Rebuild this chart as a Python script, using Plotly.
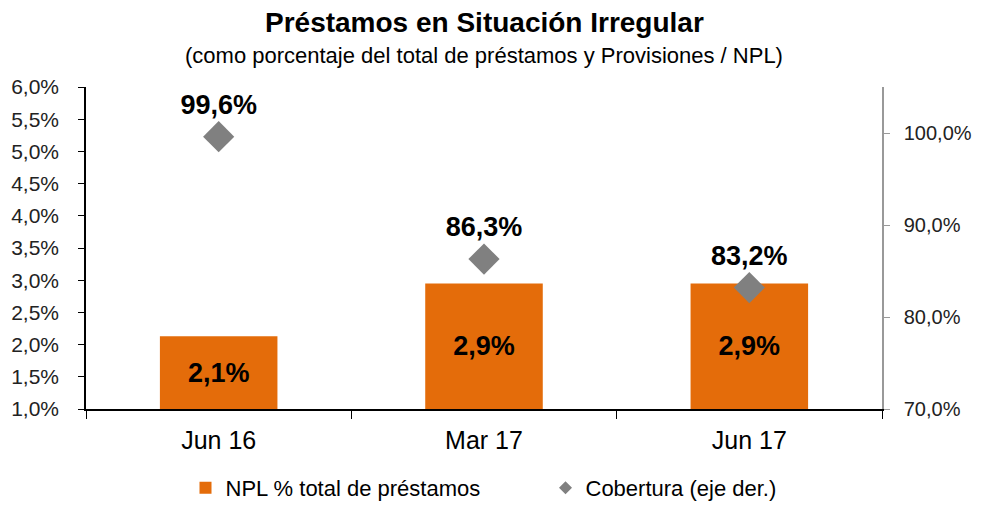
import plotly.graph_objects as go

categories = ["Jun 16", "Mar 17", "Jun 17"]
npl_values = [2.13, 2.95, 2.95]
npl_labels = ["2,1%", "2,9%", "2,9%"]
cobertura_values = [99.6, 86.3, 83.2]
cobertura_labels = ["99,6%", "86,3%", "83,2%"]
left_ticks = [1.0, 1.5, 2.0, 2.5, 3.0, 3.5, 4.0, 4.5, 5.0, 5.5, 6.0]
right_ticks = [70, 80, 90, 100]

FONT = "Liberation Sans, Arial, sans-serif"
ORANGE = "#E46C0A"
GRAY = "#808080"
AXIS_MIN = 1.0

fig = go.Figure()

# bars start at the axis minimum, as in the source chart
fig.add_trace(go.Bar(
    x=categories, y=[v - AXIS_MIN for v in npl_values], base=AXIS_MIN,
    name="NPL % total de préstamos",
    marker=dict(color=ORANGE, line=dict(width=0)),
    width=0.443,
    text=npl_labels, textposition="inside", insidetextanchor="middle",
    textfont=dict(family=FONT, size=27, color="#000000"),
    texttemplate="<b>%{text}</b>",
    textangle=0,
    hoverinfo="skip",
))

fig.add_trace(go.Scatter(
    x=categories, y=cobertura_values, name="Cobertura (eje der.)",
    mode="markers+text", yaxis="y2", showlegend=False,
    marker=dict(symbol="diamond", size=24, color=GRAY),
    text=cobertura_labels, textposition="top center",
    texttemplate="<b>%{text}</b>",
    textfont=dict(family=FONT, size=27, color="#000000"),
    hoverinfo="skip",
))

# legend entry with the small diamond symbol of the source
fig.add_trace(go.Scatter(
    x=[None], y=[None], name="Cobertura (eje der.)", mode="markers", yaxis="y2",
    marker=dict(symbol="diamond", size=10, color=GRAY), hoverinfo="skip",
))

fig.update_layout(
    width=986, height=505,
    margin=dict(l=86, r=104, t=87, b=96, autoexpand=False),
    paper_bgcolor="white", plot_bgcolor="white",
    separators=",.",
    font=dict(family=FONT, color="#000000"),
    showlegend=True,
    legend=dict(orientation="h", x=0.125, xanchor="left", y=-0.18, yanchor="top",
                font=dict(family=FONT, size=22, color="#000000"),
                traceorder="normal", itemwidth=30,
                entrywidth=315),
    xaxis=dict(
        showline=True, linecolor="#000000", linewidth=1.5,
        ticks="outside", tickson="boundaries", ticklen=8, tickcolor="#000000",
        tickfont=dict(family=FONT, size=25, color="#000000"),
        ticklabelstandoff=8,
        showgrid=False, fixedrange=True, automargin=False,
    ),
    yaxis=dict(
        range=[1.0, 6.0], tickvals=left_ticks,
        ticktext=[f"{t:.1f}%".replace(".", ",") for t in left_ticks],
        showline=True, linecolor="#000000", linewidth=1.5,
        ticks="outside", ticklen=6, tickcolor="#000000",
        tickfont=dict(family=FONT, size=21, color="#222222"),
        ticklabelstandoff=15,
        showgrid=False, zeroline=False, automargin=False,
    ),
    yaxis2=dict(
        range=[70, 105], tickvals=right_ticks,
        ticktext=[f"{t:.1f}%".replace(".", ",") for t in right_ticks],
        overlaying="y", side="right",
        showline=True, linecolor="#999999", linewidth=1.5,
        ticks="outside", ticklen=6, tickcolor="#999999",
        tickfont=dict(family=FONT, size=20, color="#222222"),
        ticklabelstandoff=10,
        showgrid=False, zeroline=False, automargin=False,
    ),
    barmode="overlay",
)

fig.add_annotation(
    text="<b>Préstamos en Situación Irregular</b>",
    xref="paper", yref="paper", x=0.5, y=1, yshift=65, xanchor="center", yanchor="middle",
    showarrow=False, font=dict(family=FONT, size=28, color="#000000"),
)
fig.add_annotation(
    text="(como porcentaje del total de préstamos y Provisiones / NPL)",
    xref="paper", yref="paper", x=0.5, y=1, yshift=32, xanchor="center", yanchor="middle",
    showarrow=False, font=dict(family=FONT, size=22, color="#000000"),
)

fig.write_html("out.html", config={"displayModeBar": False},
               post_script="document.body.style.margin='0px';")
